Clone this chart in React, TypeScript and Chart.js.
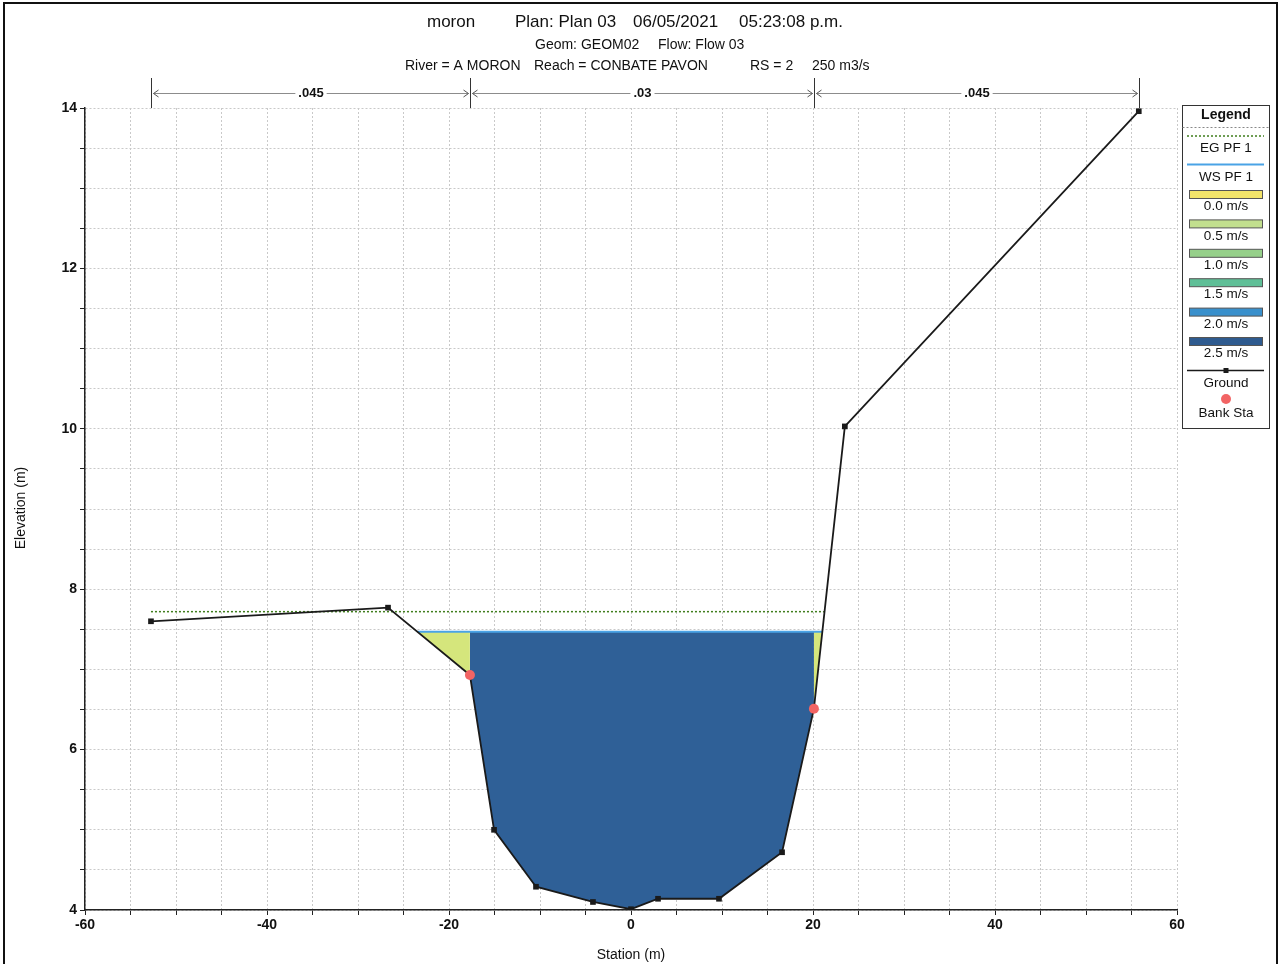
import React, { useEffect, useRef } from "react";
import { Chart, registerables } from "chart.js";

Chart.register(...registerables);

// ---------- data ----------
const GROUND_STA = [-52.75, -26.7, -17.7, -15.05, -10.44, -4.18, 0, 2.97, 9.67, 16.6, 20.1, 23.5, 55.8];
const GROUND_ELEV = [7.6, 7.77, 6.93, 5.0, 4.29, 4.1, 4.01, 4.14, 4.14, 4.72, 6.51, 10.03, 13.96];
const BANK_STA = [-17.7, 20.1];
const WS_ELEV = 7.47;
const EG_ELEV = 7.72;
const EG_STA = [-52.75, 21.2];
const N_STA = [-52.75, -17.7, 20.1, 55.8];
const N_VAL = [".045", ".03", ".045"];
const X_RANGE = [-60, 60];
const Y_RANGE = [4, 14];
const X_LABEL_EVERY = 20;
const Y_LABEL_EVERY = 2;
const TITLE_1 = ["moron", "Plan: Plan 03", "06/05/2021", "05:23:08 p.m."];
const TITLE_2 = ["Geom: GEOM02", "Flow: Flow 03"];
const TITLE_3 = ["River = A MORON", "Reach = CONBATE PAVON", "RS = 2", "250 m3/s"];
const X_TITLE = "Station (m)";
const Y_TITLE = "Elevation (m)";
const LEGEND_TITLE = "Legend";
const LEGEND_EG = "EG PF 1";
const LEGEND_WS = "WS PF 1";
const LEGEND_VEL = ["0.0 m/s", "0.5 m/s", "1.0 m/s", "1.5 m/s", "2.0 m/s", "2.5 m/s"];
const LEGEND_VEL_COLORS = ["#f3e46a", "#c2df8e", "#96d08a", "#5fbf97", "#3990cc", "#2f5b8f"];
const LEGEND_GROUND = "Ground";
const LEGEND_BANK = "Bank Sta";

// ---------- styles ----------
const FONT = "'Liberation Sans', Arial, sans-serif";
const OVERBANK_FILL = "#d5e67c";
const CHANNEL_FILL = "#2f6097";
const WS_COLOR = "#4aa3e6";
const EG_COLOR = "#3f7d1c";
const GROUND_COLOR = "#1a1a1a";
const BANK_COLOR = "#f26464";

type P = { x: number; y: number };

const ground: P[] = GROUND_STA.map((x, i) => ({ x, y: GROUND_ELEV[i] }));
const iLB = GROUND_STA.indexOf(BANK_STA[0]);
const iRB = GROUND_STA.indexOf(BANK_STA[1]);

function crossLeft(idx: number, level: number): { p: P; i: number } {
  for (let i = idx; i > 0; i--) {
    const a = ground[i - 1];
    const b = ground[i];
    if (a.y >= level && b.y < level) {
      const t = (level - b.y) / (a.y - b.y);
      return { p: { x: b.x + t * (a.x - b.x), y: level }, i };
    }
  }
  return { p: ground[0], i: 0 };
}
function crossRight(idx: number, level: number): { p: P; i: number } {
  for (let i = idx; i < ground.length - 1; i++) {
    const a = ground[i];
    const b = ground[i + 1];
    if (a.y < level && b.y >= level) {
      const t = (level - a.y) / (b.y - a.y);
      return { p: { x: a.x + t * (b.x - a.x), y: level }, i };
    }
  }
  return { p: ground[ground.length - 1], i: ground.length - 1 };
}

const wsL = crossLeft(iLB, WS_ELEV);
const wsR = crossRight(iRB, WS_ELEV);
const leftOverbank: P[] = [wsL.p, ...ground.slice(wsL.i, iLB + 1)];
const channel: P[] = ground.slice(iLB, iRB + 1);
const rightOverbank: P[] = [...ground.slice(iRB, wsR.i + 1), wsR.p];
const wsLine: P[] = [wsL.p, wsR.p];
const egLine: P[] = EG_STA.map((x) => ({ x, y: EG_ELEV }));
const bankPts: P[] = BANK_STA.map((x) => ground[GROUND_STA.indexOf(x)]);

function arrowHead(ctx: CanvasRenderingContext2D, x: number, y: number, dir: number) {
  ctx.beginPath();
  ctx.moveTo(x + dir * 5, y - 3.5);
  ctx.lineTo(x, y);
  ctx.lineTo(x + dir * 5, y + 3.5);
  ctx.stroke();
}

const decorPlugin = {
  id: "decor",
  beforeDraw(chart: any) {
    const ctx = chart.ctx as CanvasRenderingContext2D;
    ctx.save();
    ctx.fillStyle = "#ffffff";
    ctx.fillRect(0, 0, chart.width, chart.height);
    ctx.restore();
  },
  afterDraw(chart: any) {
    const ctx = chart.ctx as CanvasRenderingContext2D;
    const xs = chart.scales.x;
    const ca = chart.chartArea;
    ctx.save();

    // outer frame
    ctx.strokeStyle = "#111";
    ctx.lineWidth = 2;
    ctx.strokeRect(4, 3, 1273, 1000);

    // titles
    ctx.fillStyle = "#111";
    ctx.textBaseline = "middle";
    ctx.textAlign = "left";
    ctx.font = `17px ${FONT}`;
    const t1x = [427, 515, 633, 739];
    TITLE_1.forEach((s, i) => ctx.fillText(s, t1x[i], 22));
    ctx.font = `14px ${FONT}`;
    const t2x = [535, 658];
    TITLE_2.forEach((s, i) => ctx.fillText(s, t2x[i], 45));
    const t3x = [405, 534, 750, 812];
    TITLE_3.forEach((s, i) => ctx.fillText(s, t3x[i], 66));

    // axis titles
    ctx.textAlign = "center";
    ctx.fillText(X_TITLE, (ca.left + ca.right) / 2, 955);
    ctx.save();
    ctx.translate(21, 508);
    ctx.rotate(-Math.PI / 2);
    ctx.fillText(Y_TITLE, 0, 0);
    ctx.restore();

    // Manning's n bar
    const yBar = 93;
    ctx.font = `bold 13px ${FONT}`;
    ctx.lineWidth = 1;
    const px = N_STA.map((s) => Math.round(xs.getPixelForValue(s)) + 0.5);
    ctx.strokeStyle = "#333";
    px.forEach((x) => {
      ctx.beginPath();
      ctx.moveTo(x, 78);
      ctx.lineTo(x, ca.top);
      ctx.stroke();
    });
    N_VAL.forEach((v, i) => {
      const a = px[i];
      const b = px[i + 1];
      const mid = (a + b) / 2;
      const w = ctx.measureText(v).width;
      ctx.strokeStyle = "#8c8c8c";
      ctx.beginPath();
      ctx.moveTo(a + 2, yBar + 0.5);
      ctx.lineTo(mid - w / 2 - 3, yBar + 0.5);
      ctx.moveTo(mid + w / 2 + 3, yBar + 0.5);
      ctx.lineTo(b - 2, yBar + 0.5);
      ctx.stroke();
      ctx.strokeStyle = "#555";
      arrowHead(ctx, a + 2, yBar + 0.5, 1);
      arrowHead(ctx, b - 2, yBar + 0.5, -1);
      ctx.fillStyle = "#111";
      ctx.fillText(v, mid, yBar);
    });

    // legend
    const L0 = 1182.5;
    const L1 = 1269.5;
    const T0 = 105.5;
    const B0 = 428.5;
    const cx = (L0 + L1) / 2;
    ctx.strokeStyle = "#333";
    ctx.lineWidth = 1;
    ctx.strokeRect(L0, T0, L1 - L0, B0 - T0);
    ctx.fillStyle = "#111";
    ctx.font = `bold 14px ${FONT}`;
    ctx.fillText(LEGEND_TITLE, cx, 115);
    ctx.strokeStyle = "#888";
    ctx.setLineDash([2, 2]);
    ctx.beginPath();
    ctx.moveTo(L0, 127.5);
    ctx.lineTo(L1, 127.5);
    ctx.stroke();
    // EG
    ctx.strokeStyle = EG_COLOR;
    ctx.lineWidth = 1.5;
    ctx.setLineDash([2, 2]);
    ctx.beginPath();
    ctx.moveTo(1187, 136);
    ctx.lineTo(1264, 136);
    ctx.stroke();
    ctx.setLineDash([]);
    ctx.font = `13.5px ${FONT}`;
    ctx.fillText(LEGEND_EG, cx, 148);
    // WS
    ctx.strokeStyle = WS_COLOR;
    ctx.lineWidth = 2;
    ctx.beginPath();
    ctx.moveTo(1187, 164.5);
    ctx.lineTo(1264, 164.5);
    ctx.stroke();
    ctx.fillText(LEGEND_WS, cx, 177);
    // velocity boxes
    ctx.lineWidth = 1;
    LEGEND_VEL.forEach((lab, k) => {
      const y = 190.5 + k * 29.4;
      ctx.fillStyle = LEGEND_VEL_COLORS[k];
      ctx.fillRect(1189.5, y, 73, 8);
      ctx.strokeStyle = "#555";
      ctx.strokeRect(1189.5, y, 73, 8);
      ctx.fillStyle = "#111";
      ctx.fillText(lab, cx, 206.5 + k * 29.4);
    });
    // ground
    ctx.strokeStyle = GROUND_COLOR;
    ctx.lineWidth = 1.5;
    ctx.beginPath();
    ctx.moveTo(1187, 370.5);
    ctx.lineTo(1264, 370.5);
    ctx.stroke();
    ctx.fillStyle = GROUND_COLOR;
    ctx.fillRect(cx - 2.5, 368, 5, 5);
    ctx.fillStyle = "#111";
    ctx.fillText(LEGEND_GROUND, cx, 383);
    // bank
    ctx.fillStyle = BANK_COLOR;
    ctx.beginPath();
    ctx.arc(cx, 399, 5, 0, Math.PI * 2);
    ctx.fill();
    ctx.fillStyle = "#111";
    ctx.fillText(LEGEND_BANK, cx, 413);

    ctx.restore();
  },
};

export default function App() {
  const ref = useRef<HTMLCanvasElement | null>(null);

  useEffect(() => {
    document.body.style.margin = "0";
    const canvas = ref.current;
    if (!canvas) return;
    const fillDs = (data: P[], color: string) => ({
      data,
      borderWidth: 0,
      borderColor: color,
      backgroundColor: color,
      pointRadius: 0,
      fill: { value: WS_ELEV },
      order: 10,
    });
    const chart = new Chart(canvas, {
      type: "line",
      data: {
        datasets: [
          fillDs(leftOverbank, OVERBANK_FILL),
          fillDs(channel, CHANNEL_FILL),
          fillDs(rightOverbank, OVERBANK_FILL),
          {
            data: egLine,
            borderColor: EG_COLOR,
            borderWidth: 1.5,
            borderDash: [2, 2],
            pointRadius: 0,
            fill: false,
            order: 4,
          },
          {
            data: wsLine,
            borderColor: WS_COLOR,
            borderWidth: 2,
            pointRadius: 0,
            fill: false,
            order: 3,
          },
          {
            data: ground,
            borderColor: GROUND_COLOR,
            borderWidth: 1.8,
            pointStyle: "rect",
            pointRadius: 4,
            pointBackgroundColor: GROUND_COLOR,
            pointBorderColor: GROUND_COLOR,
            pointBorderWidth: 0,
            fill: false,
            order: 2,
          },
          {
            data: bankPts,
            showLine: false,
            pointStyle: "circle",
            pointRadius: 5,
            pointBackgroundColor: BANK_COLOR,
            pointBorderColor: BANK_COLOR,
            pointBorderWidth: 0,
            fill: false,
            order: 1,
          },
        ] as any,
      },
      options: {
        responsive: false,
        animation: false,
        devicePixelRatio: 1,
        layout: { padding: { top: 108, right: 105, bottom: 0, left: 0 } },
        elements: { line: { tension: 0 } },
        plugins: {
          legend: { display: false },
          tooltip: { enabled: false },
          title: { display: false },
        },
        scales: {
          x: {
            type: "linear",
            min: X_RANGE[0],
            max: X_RANGE[1],
            afterFit: (s: any) => {
              s.height = 54;
            },
            ticks: {
              stepSize: 5,
              autoSkip: false,
              maxRotation: 0,
              padding: 2,
              color: "#111",
              font: { family: FONT, size: 14, weight: "bold" },
              callback: (v: any) => (Number(v) % X_LABEL_EVERY === 0 ? String(v) : ""),
            },
            grid: {
              color: "#c9c9c9",
              lineWidth: 1,
              tickColor: "#222",
              tickLength: 5,
              tickBorderDash: [],
            },
            border: { color: "#222", width: 1.5, dash: [2, 2] },
          },
          y: {
            type: "linear",
            min: Y_RANGE[0],
            max: Y_RANGE[1],
            afterFit: (s: any) => {
              s.width = 85;
            },
            ticks: {
              stepSize: 0.5,
              autoSkip: false,
              padding: 3,
              color: "#111",
              font: { family: FONT, size: 14, weight: "bold" },
              callback: (v: any) => (Number(v) % Y_LABEL_EVERY === 0 ? String(v) : ""),
            },
            grid: {
              color: "#c9c9c9",
              lineWidth: 1,
              tickColor: "#222",
              tickLength: 5,
              tickBorderDash: [],
            },
            border: { color: "#222", width: 1.5, dash: [2, 2] },
          },
        },
      } as any,
      plugins: [decorPlugin],
    });
    return () => chart.destroy();
  }, []);

  return <canvas ref={ref} width={1282} height={964} style={{ display: "block" }} />;
}
